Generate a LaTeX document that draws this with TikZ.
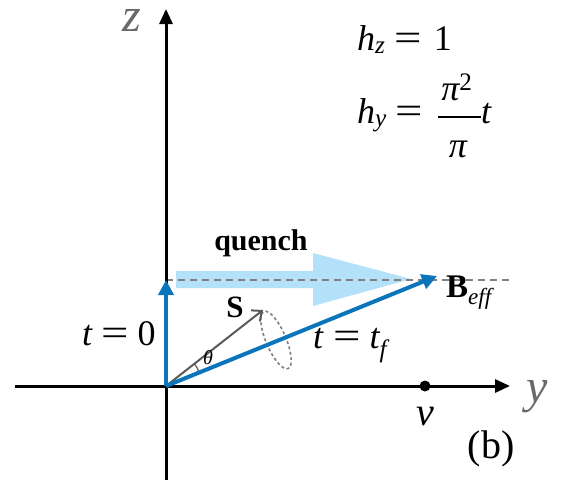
\documentclass[tikz,border=0pt]{standalone}
\usepackage{fontspec}
\setmainfont{Liberation Serif}
\usetikzlibrary{arrows.meta}
\definecolor{bblue}{HTML}{0B75BC}
\definecolor{lblue}{HTML}{B4E1FA}
\definecolor{sgray}{HTML}{5A5A5A}
\definecolor{dgray}{HTML}{808080}
\definecolor{agray}{HTML}{6A6A6A}
\newcommand{\myeq}{\scalebox{1.35}[1.05]{=}}
\begin{document}
\begin{tikzpicture}[x=1pt,y=-1pt,
  axis/.style={line width=3pt,-{Triangle[length=15pt,width=13pt]}},
  bvec/.style={line width=4pt,color=bblue,-{Triangle[length=15pt,width=15pt]}},
  svec/.style={line width=2pt,color=sgray,-{Straight Barb[length=8pt,width=14pt,line width=2pt]}},
  mtxt/.style={inner sep=0pt,anchor=base west,font=\fontsize{36}{40}\selectfont},
  axlab/.style={inner sep=0pt,anchor=base,text=agray,font=\fontsize{48}{54}\selectfont\itshape}]
\useasboundingbox (0,0) rectangle (563,483);
% coordinates
\coordinate (O) at (166,386);
\coordinate (zt) at (166,9);
\coordinate (zb) at (166,480);
\coordinate (yl) at (15,386);
\coordinate (yr) at (510,386);
\coordinate (T0) at (166,280);
\coordinate (Bt) at (437,276);
\coordinate (St) at (263,310);
\coordinate (dl) at (166,280);
\coordinate (dr) at (512,280);
\coordinate (fbl) at (438,117);
\coordinate (fbr) at (481,117);
% quench arrow
\fill[lblue] (176,271) -- (313,271) -- (313,253) -- (411,279) -- (313,306) -- (313,288) -- (176,288) -- cycle;
% dashed line
\draw[dgray,line width=2pt,dash pattern=on 7pt off 5pt] (dl) -- (dr);
% axes
\draw[axis] (zb) -- (zt);
\draw[axis] (yl) -- (yr);
% ellipse
\draw[dgray,line width=1.6pt,dash pattern=on 3pt off 2.5pt,rotate around={23:(276,340)}] (276,340) ellipse [x radius=10, y radius=31];
% theta arc
\draw[sgray,line width=1.2pt] ([shift={(-22:36)}]O) arc[start angle=-22,end angle=-38,radius=36];
% vectors
\draw[svec] (O) -- (St);
\draw[bvec] (O) -- (T0);
\draw[bvec] (O) -- (Bt);
% dot
\node[circle,fill=black,inner sep=0pt,minimum size=11pt] (v) at (425,386) {};
% labels
\node[axlab] (zl) at (132,31) {z};
\node[axlab] (ylab) at (537,402) {y};
\node[mtxt] (hz) at (357,50) {\itshape h\textsubscript{z}\upshape\hspace{9pt}\myeq\hspace{12pt}1};
\node[mtxt] (hy) at (357,123) {\itshape h\textsubscript{y}\upshape\hspace{9pt}\myeq};
\node[mtxt,anchor=base] (num) at (457,100) {\itshape π\textsuperscript{\upshape 2}};
\node[mtxt,anchor=base] (den) at (458,157) {\itshape π};
\draw[line width=2.6pt] (fbl) -- (fbr);
\node[mtxt] (tt) at (481,123) {\itshape t};
\node[inner sep=0pt,anchor=base,font=\fontsize{30}{34}\selectfont\bfseries] (q) at (261,250) {quench};
\node[inner sep=0pt,anchor=base,font=\fontsize{31}{34}\selectfont\bfseries] (S) at (235,317) {S};
\node[inner sep=0pt,anchor=base west,font=\fontsize{33}{36}\selectfont] (B) at (446,297) {\textbf{B}\textsubscript{\itshape eff}};
\node[mtxt] (ttf) at (313,348) {\itshape t\upshape\hspace{10pt}\myeq\hspace{9pt}\itshape t\textsubscript{f}};
\node[mtxt] (t0) at (82,345) {\itshape t\upshape\hspace{9pt}\myeq\hspace{9pt}0};
\node[inner sep=0pt,font=\fontsize{20}{22}\selectfont\itshape] (th) at (208,358) {θ};
\node[inner sep=0pt,anchor=base,font=\fontsize{40}{44}\selectfont\itshape] (vl) at (425,425) {v};
\node[inner sep=0pt,anchor=base,font=\fontsize{40}{44}\selectfont] (b) at (491,458) {(b)};
\end{tikzpicture}
\end{document}
